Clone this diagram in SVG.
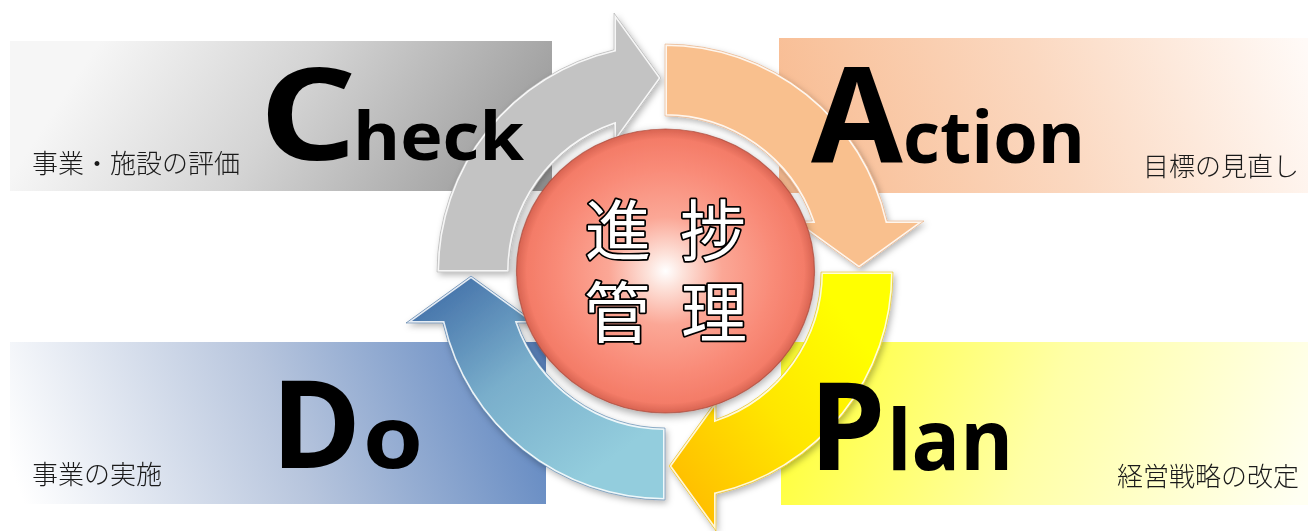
<svg xmlns="http://www.w3.org/2000/svg" width="1308" height="531" viewBox="0 0 1308 531">
<defs>
<style>
.big{font-family:"Open Sans","Liberation Sans",Arial,sans-serif;font-weight:700;fill:#000}
.sub{font-family:"Noto Sans CJK JP","Noto Sans",sans-serif;font-weight:300;font-size:26px;fill:#1a1a1a}
.core{font-family:"Noto Sans CJK JP",sans-serif;font-size:66px;font-weight:400;fill:#fff;stroke:#000;stroke-width:3.5;paint-order:stroke;stroke-linejoin:round;text-anchor:middle}
.hl{fill:none;stroke:#fff;stroke-width:4;stroke-opacity:0.85}
.edge{fill:none;stroke-width:1;stroke-opacity:0.5}
</style>
<linearGradient id="gCheck" gradientUnits="userSpaceOnUse" x1="120" y1="10" x2="470" y2="240">
<stop offset="0" stop-color="#f6f6f6"/><stop offset="0.45" stop-color="#d4d4d4"/><stop offset="1" stop-color="#9c9c9c"/>
</linearGradient>
<linearGradient id="gAction" gradientUnits="userSpaceOnUse" x1="800" y1="200" x2="1300" y2="30">
<stop offset="0" stop-color="#f8bc92"/><stop offset="0.5" stop-color="#fbd8c0"/><stop offset="1" stop-color="#fffaf7"/>
</linearGradient>
<linearGradient id="gDo" gradientUnits="userSpaceOnUse" x1="30" y1="520" x2="540" y2="330">
<stop offset="0" stop-color="#ffffff"/><stop offset="0.5" stop-color="#b7c5dd"/><stop offset="1" stop-color="#5a83bf"/>
</linearGradient>
<linearGradient id="gPlan" gradientUnits="userSpaceOnUse" x1="790" y1="330" x2="1290" y2="520">
<stop offset="0" stop-color="#ffff30"/><stop offset="0.5" stop-color="#ffffa6"/><stop offset="1" stop-color="#fffff2"/>
</linearGradient>
<linearGradient id="gBlue" gradientUnits="userSpaceOnUse" x1="471" y1="276" x2="610" y2="460">
<stop offset="0" stop-color="#4a78ad"/><stop offset="0.45" stop-color="#79aecb"/><stop offset="1" stop-color="#93cddd"/>
</linearGradient>
<linearGradient id="gYellow" gradientUnits="userSpaceOnUse" x1="471" y1="276" x2="610" y2="460">
<stop offset="0" stop-color="#ffc000"/><stop offset="0.5" stop-color="#ffe600"/><stop offset="1" stop-color="#ffff00"/>
</linearGradient>
<radialGradient id="gCore" cx="0.5" cy="0.5" r="0.5">
<stop offset="0" stop-color="#ffffff"/><stop offset="0.12" stop-color="#fde2da"/><stop offset="0.38" stop-color="#fba796"/><stop offset="0.72" stop-color="#f98b78"/><stop offset="0.93" stop-color="#f47c68"/><stop offset="1" stop-color="#d86452"/>
</radialGradient>
<path id="arrowShape" d="M 665 500 A 228 228 0 0 1 442.8 323 L 406 323 L 471 276 L 536 323 L 517.6 323 A 156 156 0 0 0 665 428 Z"/>
<clipPath id="arrowClip"><use href="#arrowShape"/></clipPath>
<filter id="shadow" x="-10%" y="-10%" width="120%" height="120%">
<feDropShadow dx="2" dy="3" stdDeviation="3" flood-color="#000" flood-opacity="0.28"/>
</filter>
<filter id="coreShadow" x="-10%" y="-10%" width="120%" height="125%">
<feDropShadow dx="0" dy="3" stdDeviation="4" flood-color="#000" flood-opacity="0.35"/>
</filter>
</defs>

<rect width="1308" height="531" fill="#fff"/>

<g id="check">
<rect x="10" y="41" width="542" height="150" fill="url(#gCheck)"/>
</g>
<g id="action">
<rect x="779" y="38" width="529" height="155" fill="url(#gAction)"/>
</g>
<g id="do">
<rect x="10" y="342" width="536" height="162" fill="url(#gDo)"/>
</g>
<g id="plan">
<rect x="781" y="342" width="527" height="163" fill="url(#gPlan)"/>
</g>

<g id="connectors" filter="url(#shadow)">
<g id="arrow-do">
<use href="#arrowShape" fill="url(#gBlue)"/>
<use href="#arrowShape" class="hl" clip-path="url(#arrowClip)"/>
<use href="#arrowShape" class="edge" stroke="#3c6a9a"/>
</g>
<g id="arrow-check" transform="rotate(90 665 272)">
<use href="#arrowShape" fill="#c3c3c3"/>
<use href="#arrowShape" class="hl" clip-path="url(#arrowClip)"/>
<use href="#arrowShape" class="edge" stroke="#a0a0a0"/>
</g>
<g id="arrow-action" transform="rotate(180 665 272)">
<use href="#arrowShape" fill="#f9c08e"/>
<use href="#arrowShape" class="hl" clip-path="url(#arrowClip)"/>
<use href="#arrowShape" class="edge" stroke="#e0a070"/>
</g>
<g id="arrow-plan" transform="rotate(270 665 272)">
<use href="#arrowShape" fill="url(#gYellow)"/>
<use href="#arrowShape" class="hl" clip-path="url(#arrowClip)"/>
<use href="#arrowShape" class="edge" stroke="#e0b000"/>
</g>
</g>

<g id="core">
<ellipse cx="665.5" cy="271" rx="149" ry="142" fill="url(#gCore)" stroke="#a84a3c" stroke-width="1.2" stroke-opacity="0.7" filter="url(#coreShadow)"/>
<text class="core" x="618" y="255">進</text>
<text class="core" x="713" y="255">捗</text>
<text class="core" x="617" y="337">管</text>
<text class="core" x="714" y="337">理</text>
</g>

<g id="check-label">
<text class="big" x="259" y="160" font-size="128" textLength="98" lengthAdjust="spacingAndGlyphs">C</text>
<text class="big" x="353" y="160" font-size="66" textLength="171" lengthAdjust="spacingAndGlyphs">heck</text>
<text class="sub" x="32" y="173">事業・施設の評価</text>
</g>
<g id="action-label">
<text class="big" x="811" y="163" font-size="133">A</text>
<text class="big" x="903" y="163" font-size="72" textLength="182" lengthAdjust="spacingAndGlyphs">ction</text>
<text class="sub" x="1299" y="176" text-anchor="end">目標の見直し</text>
</g>
<g id="do-label">
<text class="big" x="271" y="468" font-size="122">D</text>
<text class="big" x="363" y="468" font-size="86" textLength="60" lengthAdjust="spacingAndGlyphs">o</text>
<text class="sub" x="32" y="484">事業の実施</text>
</g>
<g id="plan-label">
<text class="big" x="809" y="470" font-size="122">P</text>
<text class="big" x="887" y="470" font-size="84" textLength="126" lengthAdjust="spacingAndGlyphs">lan</text>
<text class="sub" x="1299" y="486" text-anchor="end">経営戦略の改定</text>
</g>
</svg>
